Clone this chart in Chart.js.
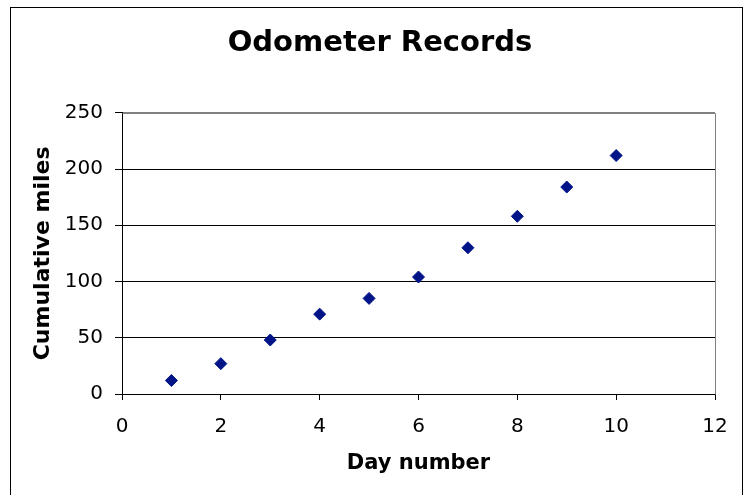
<!DOCTYPE html>
<html>
<head>
<meta charset="utf-8">
<script src="https://cdn.jsdelivr.net/npm/chart.js@4/dist/chart.umd.min.js"></script>
<style>
  html, body { margin: 0; padding: 0; background: #fff; }
  #wrap { width: 748px; height: 495px; position: relative; }
</style>
</head>
<body>
<div id="wrap"><canvas id="odoChart"></canvas></div>
<script>
// odometer readings, one per day
var days = [1, 2, 3, 4, 5, 6, 7, 8, 9, 10];
var miles = [12, 27, 48, 71, 85, 104, 130, 158, 184, 212];
var xTicks = [0, 2, 4, 6, 8, 10, 12];
var yTicks = [0, 50, 100, 150, 200, 250];

var points = [];
for (var i = 0; i < days.length; i++) {
    points.push({ x: days[i], y: miles[i] });
}

// outer frame + gray plot box (top/right edges)
var framePlugin = {
    id: 'frame',
    beforeDatasetsDraw: function (chart) {
        var c = chart.ctx, a = chart.chartArea;
        c.save();
        c.strokeStyle = '#808080';
        c.lineWidth = 1;
        c.beginPath();
        c.moveTo(Math.round(a.left) + 0.5, Math.round(a.top) + 0.5);
        c.lineTo(Math.round(a.right) + 0.5, Math.round(a.top) + 0.5);
        c.lineTo(Math.round(a.right) + 0.5, Math.round(a.bottom) + 0.5);
        c.stroke();
        c.restore();
    },
    afterDraw: function (chart) {
        var c = chart.ctx;
        c.save();
        c.strokeStyle = '#000';
        c.lineWidth = 1;
        c.strokeRect(10.5, 7.5, 732, 500);
        c.restore();
    }
};

var ctx = document.getElementById('odoChart');
var myChart = new Chart(ctx, {
    type: 'scatter',
    data: {
        datasets: [{
            label: 'Odometer',
            data: points,
            pointStyle: 'rectRot',
            pointRadius: 6,
            pointHoverRadius: 6,
            backgroundColor: '#001488',
            borderColor: '#001488',
            borderWidth: 1
        }]
    },
    options: {
        responsive: true,
        maintainAspectRatio: false,
        animation: false,
        events: [],
        layout: { padding: { left: 12, right: 0, top: 0, bottom: 0 } },
        plugins: {
            legend: { display: false },
            tooltip: { enabled: false },
            title: {
                display: true,
                text: 'Odometer Records',
                color: '#000',
                font: { family: 'DejaVu Sans', size: 29, weight: 'bold' },
                padding: { top: 26, bottom: 52 }
            }
        },
        scales: {
            x: {
                type: 'linear',
                min: 0,
                max: 12,
                afterBuildTicks: function (axis) {
                    axis.ticks = xTicks.map(function (v) { return { value: v }; });
                },
                afterFit: function (axis) { axis.height = 101; },
                grid: {
                    drawOnChartArea: false,
                    color: '#000',
                    tickLength: 6
                },
                border: { color: '#000', width: 1 },
                ticks: {
                    color: '#000',
                    padding: 15,
                    font: { family: 'DejaVu Sans', size: 20 }
                },
                title: {
                    display: true,
                    text: 'Day number',
                    color: '#000',
                    font: { family: 'DejaVu Sans', size: 21, weight: 'bold' },
                    padding: { top: 8, bottom: 19 }
                }
            },
            y: {
                min: 0,
                max: 250,
                afterBuildTicks: function (axis) {
                    axis.ticks = yTicks.map(function (v) { return { value: v }; });
                },
                afterFit: function (axis) { axis.width = 110; },
                grid: {
                    color: function (c) { return c.tick && c.tick.value === 250 ? '#808080' : '#000'; },
                    tickColor: '#000',
                    tickLength: 7
                },
                border: { color: '#000', width: 1 },
                ticks: {
                    color: '#000',
                    padding: 12,
                    font: { family: 'DejaVu Sans', size: 20 }
                },
                title: {
                    display: true,
                    text: 'Cumulative miles',
                    color: '#000',
                    font: { family: 'DejaVu Sans', size: 22, weight: 'bold' },
                    padding: { top: 18, bottom: 0 }
                }
            },
            // empty right-hand axis, only reserves the margin right of the plot
            yRight: {
                position: 'right',
                min: 0,
                max: 250,
                grid: { display: false },
                border: { display: false },
                ticks: { display: false },
                afterFit: function (axis) { axis.width = 33; }
            }
        }
    },
    plugins: [framePlugin]
});
</script>
</body>
</html>
